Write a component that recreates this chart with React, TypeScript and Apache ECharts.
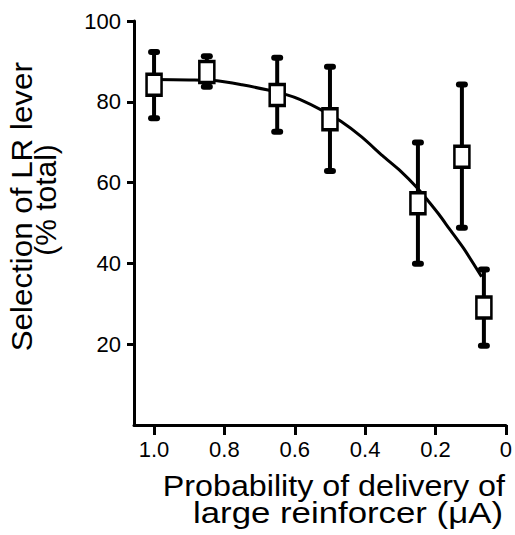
import React, { useEffect, useRef } from "react";
import * as echarts from "echarts";

// Measured data points: probability (x), % selection (y), error bar low/high
const probability = [1.0, 0.85, 0.65, 0.5, 0.25, 0.125, 0.0625];
const selection = [84.2, 87.4, 81.7, 75.7, 54.9, 66.4, 29.1];
const errLow = [75.9, 83.7, 72.6, 62.9, 39.9, 48.8, 19.6];
const errHigh = [92.3, 91.3, 90.9, 88.7, 69.9, 84.3, 38.5];

// Fitted curve
const curveX = [1.0, 0.9, 0.821, 0.75, 0.676, 0.622, 0.586, 0.525, 0.468, 0.41, 0.35, 0.3, 0.251, 0.223, 0.19, 0.161, 0.12, 0.069];
const curveY = [85.5, 85.4, 85.2, 84.2, 82.9, 81.7, 80.6, 78.0, 75.1, 71.3, 66.6, 62.9, 58.6, 55.7, 52.1, 48.6, 43.7, 36.7];

// Tick values & labels
const xTickValues = [1.0, 0.8, 0.6, 0.4, 0.2, 0];
const xTickLabels = ["1.0", "0.8", "0.6", "0.4", "0.2", "0"];
const yTickValues = [20, 40, 60, 80, 100];

const xTitle1 = "Probability of delivery of";
const xTitle2 = "large reinforcer (\u03BCA)";
const yTitle1 = "Selection of LR lever";
const yTitle2 = "(% total)";

const FONT = '"Liberation Sans", Arial, Helvetica, sans-serif';

export default function App() {
  const ref = useRef<HTMLDivElement>(null);
  useEffect(() => {
    if (!ref.current) return;
    const chart = echarts.init(ref.current, null, { renderer: "svg" });
    const option: any = {
      animation: false,
      backgroundColor: "#fff",
      grid: { left: 134, top: 21, width: 373, height: 404, containLabel: false },
      xAxis: {
        type: "value",
        inverse: true,
        min: 0,
        max: 1.057,
        axisLine: { show: true, onZero: false, lineStyle: { color: "#000", width: 3 } },
        axisTick: { show: true, length: 10, customValues: xTickValues, lineStyle: { color: "#000", width: 3 } },
        axisLabel: {
          customValues: xTickValues,
          fontSize: 22,
          fontFamily: FONT,
          color: "#000",
          margin: 13,
          formatter: (v: number) => {
            const i = xTickValues.findIndex((t) => Math.abs(t - v) < 1e-6);
            return i >= 0 ? xTickLabels[i] : "";
          },
        },
        splitLine: { show: false },
      },
      yAxis: {
        type: "value",
        min: 0,
        max: 100,
        interval: 20,
        axisLine: { show: true, onZero: false, lineStyle: { color: "#000", width: 3 } },
        axisTick: { show: true, length: 7, customValues: yTickValues, lineStyle: { color: "#000", width: 3 } },
        axisLabel: {
          customValues: yTickValues,
          fontSize: 22,
          fontFamily: FONT,
          color: "#000",
          margin: 13,
        },
        splitLine: { show: false },
      },
      graphic: [
        {
          type: "text",
          x: 505,
          y: 486.3,
          scaleX: 1.075,
          style: { text: xTitle1, fontSize: 30, fontFamily: FONT, fill: "#000", align: "right", verticalAlign: "middle" },
        },
        {
          type: "text",
          x: 503,
          y: 512.9,
          scaleX: 1.16,
          style: { text: xTitle2, fontSize: 30, fontFamily: FONT, fill: "#000", align: "right", verticalAlign: "middle" },
        },
        {
          type: "text",
          x: 21.5,
          y: 206.7,
          rotation: Math.PI / 2,
          scaleX: 1.045,
          style: { text: yTitle1, fontSize: 30, fontFamily: FONT, fill: "#000", align: "center", verticalAlign: "middle" },
        },
        {
          type: "text",
          x: 45,
          y: 200,
          rotation: Math.PI / 2,
          style: { text: yTitle2, fontSize: 30, fontFamily: FONT, fill: "#000", align: "center", verticalAlign: "middle" },
        },
      ],
      series: [
        {
          type: "custom",
          z: 1,
          data: probability.map((x, i) => [x, errLow[i], errHigh[i]]),
          encode: { x: 0, y: [1, 2] },
          renderItem: (params: any, api: any) => {
            const x = api.value(0);
            const lo = api.value(1);
            const hi = api.value(2);
            const pHi = api.coord([x, hi]);
            const pLo = api.coord([x, lo]);
            return {
              type: "group",
              children: [
                {
                  type: "line",
                  shape: { x1: pHi[0], y1: pHi[1], x2: pLo[0], y2: pLo[1] },
                  style: { stroke: "#000", lineWidth: 4 },
                },
                {
                  type: "rect",
                  shape: { x: pHi[0] - 6, y: pHi[1] - 3, width: 12, height: 6, r: 3 },
                  style: { fill: "#000" },
                },
                {
                  type: "rect",
                  shape: { x: pLo[0] - 6, y: pLo[1] - 3, width: 12, height: 6, r: 3 },
                  style: { fill: "#000" },
                },
              ],
            };
          },
        },
        {
          type: "line",
          z: 2,
          data: curveX.map((x, i) => [x, curveY[i]]),
          smooth: 0.25,
          showSymbol: false,
          symbol: "none",
          lineStyle: { color: "#000", width: 3 },
        },
        {
          type: "scatter",
          z: 3,
          data: probability.map((x, i) => [x, selection[i]]),
          symbol: "rect",
          symbolSize: [15, 21],
          itemStyle: { color: "#fff", borderColor: "#000", borderWidth: 3, opacity: 1 },
        },
      ],
    };
    chart.setOption(option);
    return () => chart.dispose();
  }, []);
  return (
    <div
      ref={ref}
      style={{ position: "fixed", left: 0, top: 0, width: 515, height: 535, background: "#fff" }}
    />
  );
}
